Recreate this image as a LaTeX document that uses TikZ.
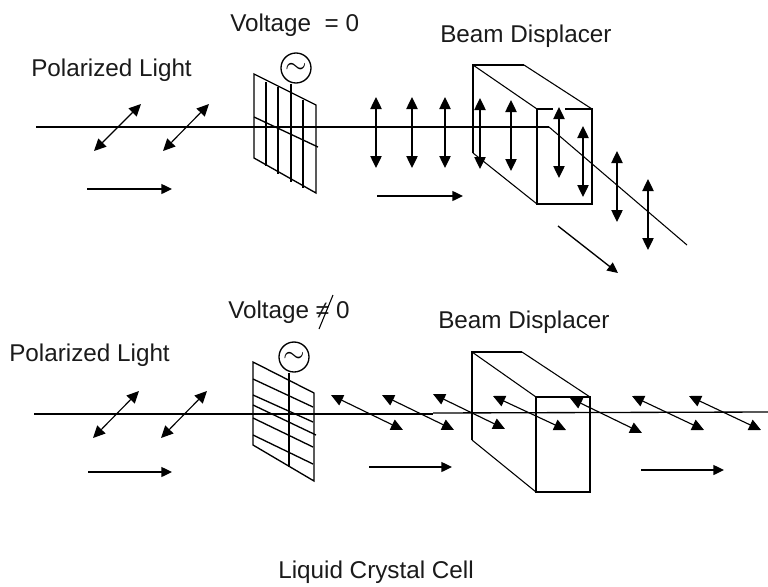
\documentclass[tikz,border=0pt]{standalone}
\usepackage{fontspec}
\setmainfont{Liberation Sans}
\usetikzlibrary{arrows.meta, calc}
\definecolor{inkline}{HTML}{000000}
\definecolor{inktext}{HTML}{1A1A1A}
\tikzset{
  lbl/.style={font=\fontsize{18.2}{21}\selectfont, text=inktext, inner sep=0pt, anchor=base west},
  ln/.style={draw=inkline, line width=1pt},
  thinln/.style={draw=inkline, line width=0.8pt},
  arr/.style={-{Triangle[length=8pt,width=7.5pt]}, draw=inkline, fill=inkline, line width=1pt},
  darr/.style={{Triangle[length=9pt,width=8.5pt]}-{Triangle[length=9pt,width=8.5pt]}, draw=inkline, line width=1pt},
  qarr/.style={darr, line width=0.85pt},
  src/.style={circle, draw=inkline, line width=1pt, minimum size=22.5pt, inner sep=0pt,
    font=\fontsize{22}{22}\selectfont},
}
\begin{document}
\begin{tikzpicture}[x=0.75pt, y=-0.75pt]
  \useasboundingbox (0,0) rectangle (768,586);

  % labels
  \node[lbl] (vzero) at (230,31) {Voltage\ \ = 0};
  \node[lbl] (bdtop) at (440,42) {Beam Displacer};
  \node[lbl] (pltop) at (31,76) {Polarized Light};
  \node[lbl] (vnon) at (228,318) {Voltage ≠ 0};
  \node[lbl] (bdbot) at (438,328) {Beam Displacer};
  \node[lbl] (plbot) at (9,361) {Polarized Light};
  \node[lbl] (lcc) at (278,578) {Liquid Crystal Cell};

  % long stroke of the not-equal sign
  \coordinate (nea) at (319,329);
  \coordinate (neb) at (333,295);
  \draw[thinln] (nea) -- (neb);

  % upper path
  \coordinate (ua) at (36,127);
  \coordinate (ub) at (549,127);
  \coordinate (uc) at (687,245);
  \draw[ln] (ua) -- (ub);
  \draw[thinln] (ub) -- (uc);

  % upper cell
  \node[src] (acu) at (296,68) {$\sim$};
  \coordinate (ctl) at (254,74);
  \coordinate (ctr) at (316,105);
  \coordinate (cbr) at (316,193);
  \coordinate (cbl) at (254,158);
  \draw[ln] (ctl) -- (ctr) -- (cbr) -- (cbl) -- cycle;
  \foreach \i/\x/\ya/\yb in {1/266/82/166, 2/278/87/174, 3/303/100/188}{
    \coordinate (gt\i) at (\x,\ya);
    \coordinate (gb\i) at (\x,\yb);
    \draw[ln] (gt\i) -- (gb\i);
  }
  \coordinate (gu) at (291,182);
  \draw[ln] (acu.south -| gu) -- (gu);
  \coordinate (ma) at (254,117);
  \coordinate (mb) at (318,147);
  \draw[ln] (ma) -- (mb);

  % upper beam displacer
  \coordinate (ubk) at (473,65);
  \coordinate (ubr) at (524,65);
  \coordinate (ubb) at (473,153);
  \coordinate (uft) at (537,109);
  \coordinate (ufr) at (592,109);
  \coordinate (ufs) at (592,204);
  \coordinate (ufb) at (537,204);
  \coordinate (uga) at (553,109);
  \coordinate (ugb) at (565,109);
  \draw[ln] (ubb) -- (ubk) -- (ubr);
  \draw[thinln] (ubk) -- (uft);
  \draw[thinln] (ubr) -- (ufr);
  \draw[thinln] (ubb) -- (ufb);
  \draw[ln] (uga) -- (uft) -- (ufb) -- (ufs) -- (ufr) -- (ugb);

  % upper polarization
  \foreach \i/\xa/\ya/\xb/\yb in {1/94/151/141/104, 2/163/151/209/104}{
    \coordinate (pa\i) at (\xa,\ya);
    \coordinate (pb\i) at (\xb,\yb);
    \draw[qarr] (pa\i) -- (pb\i);
  }
  \foreach \i/\x/\ya/\yb in {1/376/97/168, 2/412/97/168, 3/445/97/168, 4/480/98/169,
      5/511/100/171, 6/559/107/178, 7/583/126/197, 8/617/151/222, 9/648/179/250}{
    \coordinate (va\i) at (\x,\ya);
    \coordinate (vb\i) at (\x,\yb);
    \draw[darr] (va\i) -- (vb\i);
  }
  \foreach \i/\xa/\ya/\xb/\yb in {1/87/189/172/189, 2/377/196/463/196, 3/558/226/618/273}{
    \coordinate (ha\i) at (\xa,\ya);
    \coordinate (hb\i) at (\xb,\yb);
    \draw[arr] (ha\i) -- (hb\i);
  }

  % lower path
  \coordinate (la) at (34,414);
  \coordinate (lk) at (433,414);
  \coordinate (lm) at (433,413);
  \coordinate (lb) at (768,412);
  \draw[ln] (la) -- (lk);
  \draw[ln] (lm) -- (lb);

  % lower cell
  \node[src] (acl) at (294,357) {$\sim$};
  \coordinate (dtl) at (253,362);
  \coordinate (dtr) at (314,393);
  \coordinate (dbr) at (314,481);
  \coordinate (dbl) at (253,445);
  \draw[ln] (dtl) -- (dtr) -- (dbr) -- (dbl) -- cycle;
  \foreach \i/\ya/\xb/\yb in {1/379/313/407, 2/395/313/422, 3/405/316/435, 4/418/313/447, 5/435/313/464}{
    \coordinate (sa\i) at (253,\ya);
    \coordinate (sb\i) at (\xb,\yb);
    \draw[ln] (sa\i) -- (sb\i);
  }
  \coordinate (gl) at (289,467);
  \draw[ln] (acl.south -| gl) -- (gl);

  % lower beam displacer
  \coordinate (lbk) at (472,352);
  \coordinate (lbr) at (522,352);
  \coordinate (lbb) at (472,440);
  \coordinate (lft) at (536,397);
  \coordinate (lfr) at (590,397);
  \coordinate (lfs) at (590,492);
  \coordinate (lfb) at (536,492);
  \draw[ln] (lbb) -- (lbk) -- (lbr);
  \draw[thinln] (lbk) -- (lft);
  \draw[thinln] (lbr) -- (lfr);
  \draw[thinln] (lbb) -- (lfb);
  \draw[ln] (lft) -- (lfr) -- (lfs) -- (lfb) -- cycle;

  % lower polarization
  \foreach \i/\xa/\ya/\xb/\yb in {1/93/438/139/391, 2/161/438/207/391,
      3/331/395/403/430, 4/382/395/454/430, 5/433/394/505/429, 6/493/396/566/430,
      7/570/398/642/433, 8/632/396/704/430, 9/689/396/761/430}{
    \coordinate (qa\i) at (\xa,\ya);
    \coordinate (qb\i) at (\xb,\yb);
    \draw[qarr] (qa\i) -- (qb\i);
  }
  \foreach \i/\xa/\xb/\y in {1/88/172/472, 2/369/452/467, 3/641/724/470}{
    \coordinate (ka\i) at (\xa,\y);
    \coordinate (kb\i) at (\xb,\y);
    \draw[arr] (ka\i) -- (kb\i);
  }
\end{tikzpicture}
\end{document}
